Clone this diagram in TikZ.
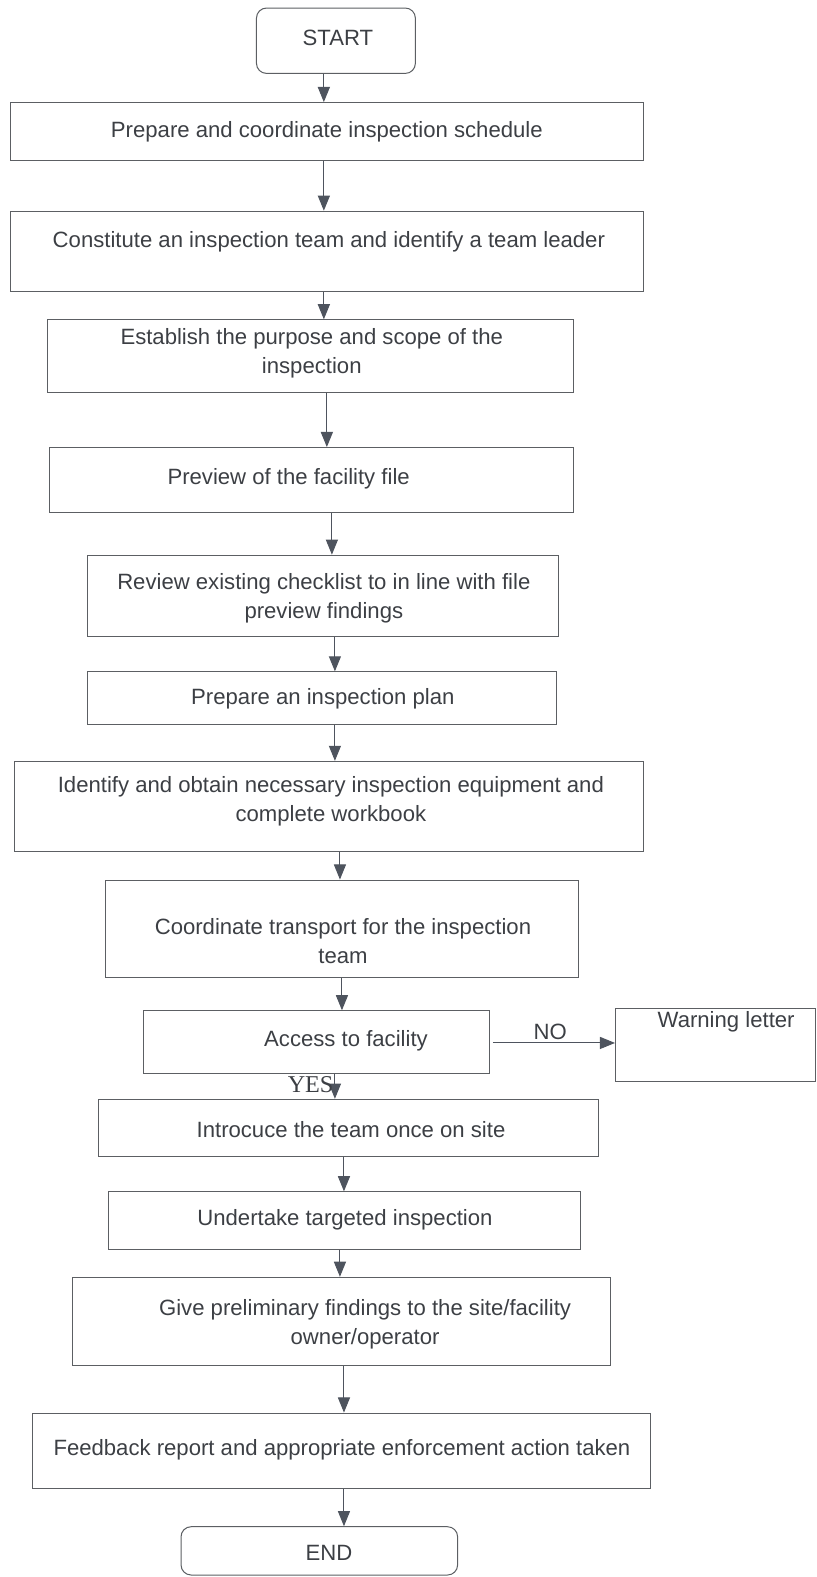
\documentclass[tikz,border=0pt]{standalone}
\usepackage{fontspec}
\setmainfont{Liberation Sans}
\newfontfamily\yesfont{Liberation Serif}
\usetikzlibrary{arrows.meta,fit}
\definecolor{boxgray}{HTML}{5C5F63}
\definecolor{txtgray}{HTML}{3C3F44}
\definecolor{arrgray}{HTML}{4E545E}
\tikzset{
  box/.style={draw=boxgray, line width=1pt, inner sep=0pt},
  rbox/.style={box, rounded corners=10pt},
  txt/.style={font=\fontsize{22}{29}\selectfont, text=txtgray, align=center, inner sep=0pt},
  arr/.style={draw=arrgray, line width=1pt, -{Triangle[length=15pt,width=12pt]}},
}
\begin{document}
\begin{tikzpicture}[x=1pt,y=-1pt]
\useasboundingbox (0,0) rectangle (812,1568);
% boxes
\node[rbox, fit={(255,8) (413,73)}] (start) {};
\node[box, fit={(10,102) (640,160)}] (b1) {};
\node[box, fit={(10,210) (640,290)}] (b2) {};
\node[box, fit={(47,318) (570,390)}] (b3) {};
\node[box, fit={(49,445) (570,510)}] (b4) {};
\node[box, fit={(87,552) (555,633)}] (b5) {};
\node[box, fit={(87,668) (553,720)}] (b6) {};
\node[box, fit={(14,757) (640,847)}] (b7) {};
\node[box, fit={(105,875) (575,972)}] (b8) {};
\node[box, fit={(143,1005) (487,1067)}] (b9) {};
\node[box, fit={(612,1003) (811,1075)}] (warn) {};
\node[box, fit={(98,1093) (595,1150)}] (b10) {};
\node[box, fit={(108,1185) (577,1242)}] (b11) {};
\node[box, fit={(72,1270) (607,1358)}] (b12) {};
\node[box, fit={(32,1405) (647,1480)}] (b13) {};
\node[rbox, fit={(180,1518) (455,1566)}] (end) {};
% texts
\node[txt] (tstart) at (336,38) {START};
\node[txt] (t1) at (325,131) {Prepare and coordinate inspection schedule};
\node[txt] (t2) at (327,240) {Constitute an inspection team and identify a team leader};
\node[txt] (t3) at (310,351) {Establish the purpose and scope of the\\inspection};
\node[txt] (t4) at (287,476) {Preview of the facility file};
\node[txt] (t5) at (322,595) {Review existing checklist to in line with file\\preview findings};
\node[txt] (t6) at (321,695) {Prepare an inspection plan};
\node[txt] (t7) at (329,797) {Identify and obtain necessary inspection equipment and\\complete workbook};
\node[txt] (t8) at (341,936) {Coordinate transport for the inspection\\team};
\node[txt] (t9) at (344,1035) {Access to facility};
\node[txt] (twarn) at (722,1016) {Warning letter};
\node[txt] (t10) at (349,1123) {Introcuce the team once on site};
\node[txt] (t11) at (343,1213) {Undertake targeted inspection};
\node[txt] (t12) at (363,1317) {Give preliminary findings to the site/facility\\owner/operator};
\node[txt] (t13) at (340,1441) {Feedback report and appropriate enforcement action taken};
\node[txt] (tend) at (327,1544) {END};
% arrow x positions
\coordinate (x0) at (322,0);
\coordinate (x1) at (322,0);
\coordinate (x2) at (322,0);
\coordinate (x3) at (325,0);
\coordinate (x4) at (330,0);
\coordinate (x5) at (333,0);
\coordinate (x6) at (333,0);
\coordinate (x7) at (338,0);
\coordinate (x8) at (340,0);
\coordinate (x9) at (333,0);
\coordinate (x10) at (342,0);
\coordinate (x11) at (338,0);
\coordinate (x12) at (342,0);
\coordinate (x13) at (342,0);
% connectors
\draw[arr] (start.south -| x0) -- (b1.north -| x0);
\draw[arr] (b1.south -| x1) -- (b2.north -| x1);
\draw[arr] (b2.south -| x2) -- (b3.north -| x2);
\draw[arr] (b3.south -| x3) -- (b4.north -| x3);
\draw[arr] (b4.south -| x4) -- (b5.north -| x4);
\draw[arr] (b5.south -| x5) -- (b6.north -| x5);
\draw[arr] (b6.south -| x6) -- (b7.north -| x6);
\draw[arr] (b7.south -| x7) -- (b8.north -| x7);
\draw[arr] (b8.south -| x8) -- (b9.north -| x8);
\draw[arr] (b9.south -| x9) -- node[pos=0.45, left=0pt, inner sep=1pt, font=\yesfont\fontsize{24}{24}\selectfont, text=txtgray] (yes) {YES} (b10.north -| x9);
\coordinate (nostart) at (490,1037);
\draw[arr] (nostart) -- node[above=-1pt, pos=0.47, font=\fontsize{22}{22}\selectfont, text=txtgray] (no) {NO} (nostart -| warn.west);
\draw[arr] (b10.south -| x10) -- (b11.north -| x10);
\draw[arr] (b11.south -| x11) -- (b12.north -| x11);
\draw[arr] (b12.south -| x12) -- (b13.north -| x12);
\draw[arr] (b13.south -| x13) -- (end.north -| x13);
\end{tikzpicture}
\end{document}
